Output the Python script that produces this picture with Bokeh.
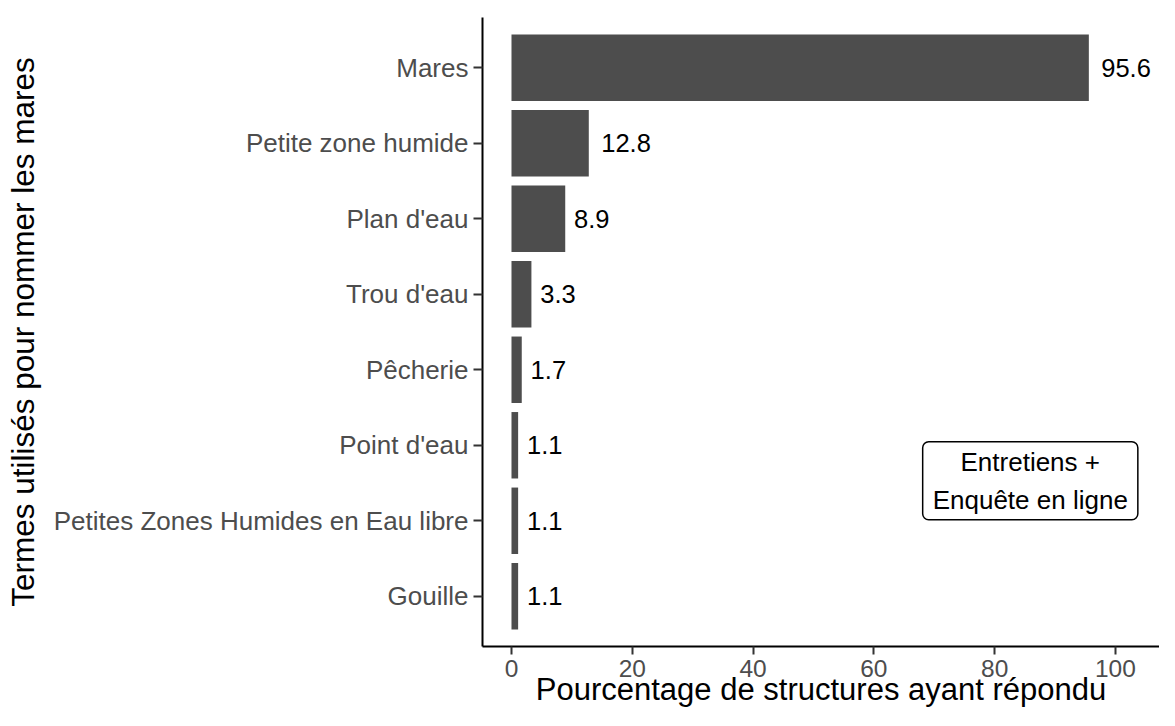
from bokeh.plotting import figure
from bokeh.models import ColumnDataSource, FactorRange, Range1d, FixedTicker, Label
from bokeh.core.properties import value
from bokeh.embed import file_html
from bokeh.resources import INLINE

# ---- data ----
terms = ["Mares", "Petite zone humide", "Plan d'eau", "Trou d'eau", "Pêcherie",
         "Point d'eau", "Petites Zones Humides en Eau libre", "Gouille"]
pct = [95.6, 12.8, 8.9, 3.3, 1.7, 1.1, 1.1, 1.1]
x_ticks = [0, 20, 40, 60, 80, 100]
x_title = "Pourcentage de structures ayant répondu"
y_title = "Termes utilisés pour nommer les mares"
box_text = "Entretiens +\nEnquête en ligne"

FONT = "Liberation Sans"
VAL_SIZE = 25.5

labels = [f"{v:.1f}" for v in pct]
# ggplot-like hjust = -0.25 : offset proportional to label width
def _w(s):
    return sum(0.278 if c == "." else 0.556 for c in s) * VAL_SIZE
xoff = [0.25 * _w(s) for s in labels]

src = ColumnDataSource(dict(term=terms, pct=pct, label=labels, xoff=xoff))

factors = list(reversed(terms))
p = figure(width=1159, height=710, output_backend="svg", toolbar_location=None,
           y_range=FactorRange(factors=factors, range_padding=0.165,
                               range_padding_units="absolute"),
           x_range=Range1d(-4.8, 107.3),
           min_border_left=482, min_border_top=17, min_border_bottom=64,
           min_border_right=0)

p.hbar(y="term", right="pct", left=0, height=0.88, source=src,
       fill_color="#4d4d4d", line_color=None)

p.text(x="pct", y="term", text="label", x_offset="xoff", source=src,
       text_baseline="middle", text_align="left", text_color="#000000",
       text_font=value(FONT), text_font_size=value(f"{VAL_SIZE}px"))

box = Label(x=85.9, y=2.03, text=box_text, text_align="center",
            text_baseline="middle", text_font=FONT, text_font_size="26px",
            text_color="#000000", text_line_height=1.27,
            border_line_color="#000000", border_line_width=1.5,
            background_fill_color="#ffffff", padding=(10, 5), border_radius=6)
p.add_layout(box)

p.outline_line_color = None
p.xgrid.visible = False
p.ygrid.visible = False
p.background_fill_color = "#ffffff"

for ax in (p.xaxis[0], p.yaxis[0]):
    ax.axis_line_color = "#000000"
    ax.axis_line_width = 2
    ax.major_tick_line_color = "#333333"
    ax.major_tick_line_width = 2
    ax.major_tick_in = 0
    ax.minor_tick_line_color = None
    ax.major_label_text_color = "#4d4d4d"
    ax.major_label_text_font = FONT
    ax.axis_label_text_font = FONT
    ax.axis_label_text_font_style = "normal"
    ax.axis_label_text_color = "#000000"

p.xaxis.ticker = FixedTicker(ticks=x_ticks)
p.xaxis.major_tick_out = 8
p.xaxis.major_label_text_font_size = "24.5px"
p.xaxis.major_label_standoff = 5
p.xaxis.axis_label = x_title
p.xaxis.axis_label_text_font_size = "31px"
p.xaxis.axis_label_standoff = -8

p.yaxis.major_tick_out = 9
p.yaxis.major_label_text_font_size = "26px"
p.yaxis.major_label_standoff = 5
p.yaxis.axis_label = y_title
p.yaxis.axis_label_text_font_size = "31.5px"
p.yaxis.axis_label_standoff = 10

open("out.html", "w").write(file_html(p, INLINE))
